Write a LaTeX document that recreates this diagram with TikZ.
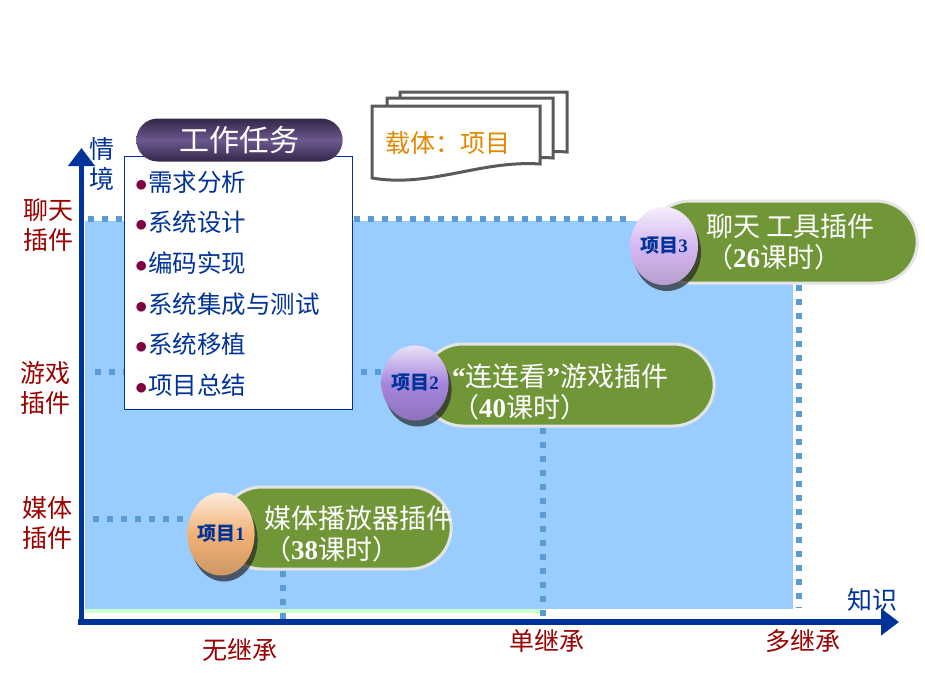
\documentclass[tikz,border=0pt]{standalone}
\usepackage{fontspec}
\setmainfont{Noto Sans CJK SC}
\newfontfamily\latinserif{Liberation Serif}
\usetikzlibrary{positioning,arrows.meta,shapes.misc,shapes.geometric,shadows}
\definecolor{areablue}{RGB}{153,204,255}
\definecolor{stripgreen}{RGB}{204,255,204}
\definecolor{dotblue}{RGB}{91,155,213}
\definecolor{axisblue}{RGB}{0,51,153}
\definecolor{labelred}{RGB}{153,0,0}
\definecolor{bulletred}{RGB}{128,0,64}
\definecolor{pagegray}{RGB}{90,90,90}
\definecolor{carrierorange}{RGB}{224,136,0}
\definecolor{projgreen}{RGB}{112,150,56}
\definecolor{rimgray}{RGB}{228,228,228}
\definecolor{headdark}{RGB}{52,38,72}
\definecolor{headmid}{RGB}{108,88,142}
\definecolor{chatball}{RGB}{214,184,242}
\definecolor{gameball}{RGB}{166,134,222}
\definecolor{mediaball}{RGB}{242,178,118}
\newcommand{\bul}{{\color{bulletred}$\bullet$}\hspace{1pt}}
\newcommand{\num}[1]{{\latinserif\bfseries #1}}
\tikzset{
    on grid,
    node distance=40.6pt,
    area/.style = {
        fill=areablue,
        draw=none
    },
    guide/.style = {
        draw=dotblue,
        line width=6pt,
        dash pattern=on 6pt off 8pt
    },
    axis/.style = {
        draw=axisblue,
        line width=5.5pt,
        -{Triangle[length=18pt,width=26pt]}
    },
    ylabel/.style = {
        text=labelred,
        align=center,
        font=\fontsize{25}{30}\selectfont
    },
    header/.style = {
        shape=rounded rectangle,
        minimum width=213pt,
        minimum height=43pt,
        top color=headdark,
        bottom color=headdark,
        middle color=headmid,
        text=white,
        font=\fontsize{30}{30}\selectfont
    },
    taskbox/.style = {
        draw=axisblue,
        fill=white,
        line width=1.2pt,
        minimum width=228pt,
        minimum height=253pt
    },
    item/.style = {
        text=axisblue,
        text width=200pt,
        align=left,
        inner sep=0pt,
        font=\fontsize{24.5}{24.5}\selectfont
    },
    page/.style = {
        draw=pagegray,
        fill=white,
        line width=3pt
    },
    proj/.style = {
        shape=rounded rectangle,
        fill=projgreen,
        draw=rimgray,
        line width=3pt,
        minimum height=82pt
    },
    ball/.style = {
        shape=ellipse,
        top color=#1!25!white,
        bottom color=#1!85!black,
        middle color=#1,
        inner sep=0pt,
        text=axisblue,
        font=\bfseries\fontsize{19}{19}\selectfont,
        drop shadow={shadow xshift=3pt, shadow yshift=-6pt, fill=black!85, opacity=.7}
    },
    projtext/.style = {
        text=white,
        align=left,
        inner sep=0pt,
        anchor=west,
        font=\fontsize{27}{31}\selectfont
    },
}

\begin{document}
\begin{tikzpicture}[x=1pt,y=-1pt]
    \useasboundingbox (0,0) rectangle (925,681);

    % background area
    \fill[area] (85,221) rectangle (793,609);
    \fill[stripgreen] (85,609) rectangle (543,613);

    % axis points
    \coordinate (yorig) at (81.5,625);
    \coordinate (ytip) at (81.5,148);
    \coordinate (xorig) at (78,622);
    \coordinate (xtip) at (899,622);
    \coordinate (ychat) at (88,219);
    \coordinate (ygame) at (95,372);
    \coordinate (ymedia) at (93,519);
    \coordinate (xnone) at (283,622);
    \coordinate (xsingle) at (543,622);
    \coordinate (xmulti) at (799,608);

    % projects
    \node[proj, minimum width=275pt] (p3) at (783,242) {};
    \node[proj, minimum width=299pt] (p2) at (568,385) {};
    \node[proj, minimum width=237pt] (p1) at (336,528) {};

    % guide lines
    \draw[guide] (ychat) -- (ychat -| 632,0);
    \draw[guide] (ygame) -- (ygame -| 390,0);
    \draw[guide] (ymedia) -- (ymedia -| 190,0);
    \draw[guide] (p1.south -| xnone) -- (xnone);
    \draw[guide] (p2.south -| xsingle) -- (xsingle);
    \draw[guide] (p3.south -| xmulti) -- (xmulti);

    % axes
    \draw[axis] (yorig) -- (ytip);
    \draw[axis] (xorig) -- (xtip);

    \node[ball=chatball, minimum width=68pt, minimum height=78pt] (b3) at (664,246) {项目\num{3}};
    \node[ball=gameball, minimum width=60pt, minimum height=75pt] (b2) at (415,383) {项目\num{2}};
    \node[ball=mediaball, minimum width=65pt, minimum height=83pt] (b1) at (221,534) {项目\num{1}};

    \node[projtext] (t3) at (706,242) {聊天 工具插件\\（\num{26}课时）};
    \node[projtext] (t2) at (452,392) {{\latinserif\bfseries “}连连看{\latinserif\bfseries ”}游戏插件\\（\num{40}课时）};
    \node[projtext] (t1) at (264,534) {媒体播放器插件\\（\num{38}课时）};

    % task list
    \node[taskbox, anchor=north west] (tasks) at (124,156) {};
    \node[header] (head) at (239.5,140) {工作任务};
    \node[item] (k1) at (235,182) {\bul 需求分析};
    \node[item, below of=k1] (k2) {\bul 系统设计};
    \node[item, below of=k2] (k3) {\bul 编码实现};
    \node[item, below of=k3] (k4) {\bul 系统集成与测试};
    \node[item, below of=k4] (k5) {\bul 系统移植};
    \node[item, below of=k5] (k6) {\bul 项目总结};

    % carrier pages
    \draw[page] (400,92) -- (567,92) -- (567,152) .. controls (520,148) and (460,172) .. (400,165) -- cycle;
    \draw[page] (387,98) -- (553,98) -- (553,158) .. controls (505,154) and (445,180) .. (387,172) -- cycle;
    \draw[page] (372,106) -- (540,106) -- (540,164) .. controls (480,160) and (430,188) .. (372,178) -- cycle;
    \node[text=carrierorange, font=\fontsize{25}{25}\selectfont] (carrier) at (448,143) {载体：项目};

    % labels
    \node[ylabel, text=axisblue] (yname) at (102,164) {情\\境};
    \node[ylabel] (lchat) at (48,225) {聊天\\插件};
    \node[ylabel] (lgame) at (45,388) {游戏\\插件};
    \node[ylabel] (lmedia) at (47,523) {媒体\\插件};
    \node[ylabel, text=axisblue] (xname) at (872,600) {知识};
    \node[ylabel] (lnone) at (240,650) {无继承};
    \node[ylabel] (lsingle) at (547,641) {单继承};
    \node[ylabel] (lmulti) at (803,641) {多继承};
\end{tikzpicture}
\end{document}
